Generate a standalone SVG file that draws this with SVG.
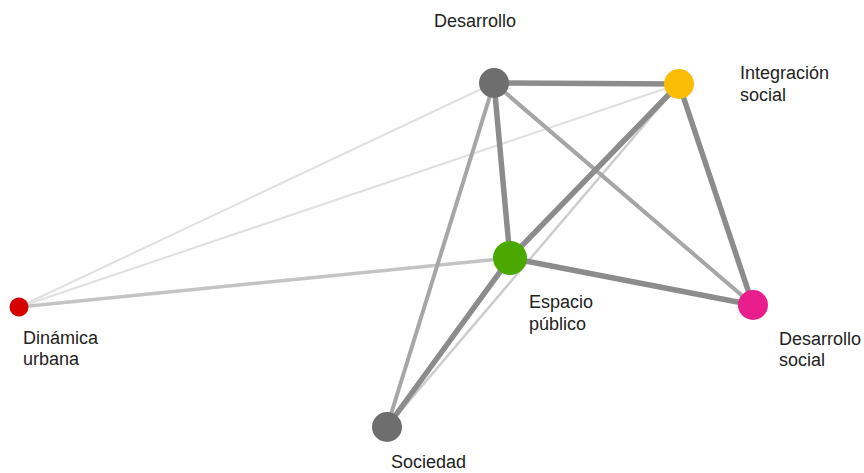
<svg xmlns="http://www.w3.org/2000/svg" width="864" height="473" viewBox="0 0 864 473">
<style>
.e{fill:none;stroke-linecap:round}
.s1{stroke:#8c8c8c;stroke-width:5.5}
.s2{stroke:#a6a6a6;stroke-width:4}
.s3{stroke:#c4c4c4;stroke-width:3.5}
.s4{stroke:#e0e0e0;stroke-width:2}
.s5{stroke:#cdcdcd;stroke-width:2.5}
text{font-family:"Liberation Sans",Arial,sans-serif;font-size:18px;fill:#222}
</style>
<rect width="864" height="473" fill="#fff"/>
<g id="connectors">
<line class="e s4" x1="494" y1="83" x2="19" y2="307"/>
<line class="e s4" x1="679" y1="84" x2="19" y2="307"/>
<line class="e s3" x1="510" y1="258" x2="19" y2="307"/>
<line class="e s5" x1="679" y1="84" x2="387" y2="427"/>
<line class="e s2" x1="494" y1="83" x2="387" y2="427"/>
<line class="e s2" x1="494" y1="83" x2="753" y2="305"/>
<line class="e s1" x1="494" y1="83" x2="679" y2="84"/>
<line class="e s1" x1="494" y1="83" x2="510" y2="258"/>
<line class="e s1" x1="679" y1="84" x2="510" y2="258"/>
<line class="e s1" x1="679" y1="84" x2="753" y2="305"/>
<line class="e s1" x1="510" y1="258" x2="753" y2="305"/>
<line class="e s1" x1="510" y1="258" x2="387" y2="427"/>
</g>
<g id="desarrollo">
<circle cx="494" cy="83" r="15" fill="#6e6e6e"/>
<text x="434" y="27">Desarrollo</text>
</g>
<g id="integracion-social">
<circle cx="679" cy="84" r="15" fill="#fbbc05"/>
<text x="740" y="79">Integración</text>
<text x="740" y="101">social</text>
</g>
<g id="espacio-publico">
<circle cx="510" cy="258" r="17" fill="#4aa800"/>
<text x="529" y="308">Espacio</text>
<text x="529" y="330">público</text>
</g>
<g id="desarrollo-social">
<circle cx="753" cy="305" r="15" fill="#e91e8c"/>
<text x="779" y="345">Desarrollo</text>
<text x="779" y="366">social</text>
</g>
<g id="dinamica-urbana">
<circle cx="19" cy="307" r="9.5" fill="#d50000"/>
<text x="23" y="344">Dinámica</text>
<text x="23" y="365">urbana</text>
</g>
<g id="sociedad">
<circle cx="387" cy="427" r="15" fill="#6e6e6e"/>
<text x="391" y="468">Sociedad</text>
</g>
</svg>
